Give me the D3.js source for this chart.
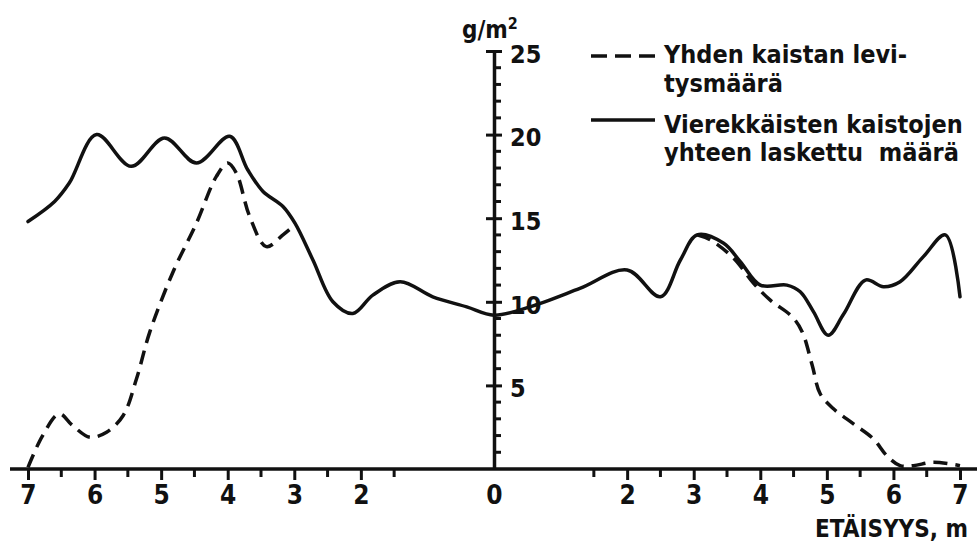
<!DOCTYPE html>
<html>
<head>
<meta charset="utf-8">
<script src="https://cdn.jsdelivr.net/npm/d3@7"></script>
<style>
  body { margin: 0; background: #fff; }
  text { font-family: "DejaVu Sans Condensed", "DejaVu Sans", sans-serif; font-weight: bold; fill: #111; }
</style>
</head>
<body>
<div class="container"></div>
<script>
// distances (m), negative = left side of the centre line
const sumX = [-7, -6.6, -6.38, -5.97, -5.45, -4.95, -4.47, -3.97, -3.7, -3.47, -3.17, -2.99, -2.72, -2.42, -2.12, -1.82, -1.41, -0.92, -0.41, 0,
  0.54, 1.29, 2.0, 2.5, 2.8, 3.05, 3.45, 3.7, 4.0, 4.4, 4.6, 4.8, 5.02, 5.25, 5.58, 5.85, 6.1, 6.45, 6.78, 7.0];
const sumY = [14.8, 16.0, 17.1, 20.0, 18.1, 19.8, 18.3, 19.9, 17.9, 16.6, 15.7, 14.7, 12.5, 10.0, 9.3, 10.4, 11.2, 10.3, 9.7, 9.2,
  9.7, 10.8, 11.9, 10.3, 12.5, 14.0, 13.5, 12.4, 11.0, 11.0, 10.6, 9.4, 8.0, 9.25, 11.3, 10.9, 11.2, 12.7, 14.0, 10.3];

// single strip, left part
const singleLeftX = [-7.0, -6.78, -6.53, -6.33, -6.07, -5.82, -5.57, -5.37, -5.17, -4.82, -4.47, -4.17, -4.0, -3.87, -3.67, -3.42, -3.17, -2.99];
const singleLeftY = [0.1, 2.0, 3.3, 2.6, 1.9, 2.2, 3.2, 5.4, 8.2, 11.8, 14.7, 17.5, 18.3, 17.7, 15.1, 13.3, 14.0, 14.6];

// single strip, right part
const singleRightX = [3.05, 3.25, 3.6, 3.9, 4.15, 4.48, 4.63, 4.78, 4.9, 5.1, 5.4, 5.7, 5.9, 6.1, 6.3, 6.6, 7.0];
const singleRightY = [14.0, 13.7, 12.6, 11.1, 10.1, 9.1, 8.2, 6.2, 4.5, 3.6, 2.7, 1.8, 0.8, 0.2, 0.2, 0.4, 0.2];

const xMajor = [-7, -6, -5, -4, -3, -2, 0, 2, 3, 4, 5, 6, 7];
const xMinor = [-6.5, -5.5, -4.5, -3.5, -2.5, -1.5, 1.5, 2.5, 3.5, 4.5, 5.5, 6.5];
const yMajor = [5, 10, 15, 20, 25];
const yMinor = d3.range(1, 25).filter(d => d % 5 !== 0);

const width = 977;
const height = 542;

const xScale = d3.scaleLinear().domain([-7, 7]).range([28, 960]);
const yScale = d3.scaleLinear().domain([0, 25]).range([469, 51]);

const svg = d3.select("div.container")
  .append("svg")
  .attr("width", width)
  .attr("height", height);

// x axis
const xAxis = d3.axisBottom(xScale).tickValues(xMajor).tickFormat(d => Math.abs(d))
  .tickSize(11).tickSizeOuter(0).tickPadding(6);
const gx = svg.append("g").attr("id", "x-axis").attr("transform", `translate(0,${yScale(0)})`).call(xAxis);
gx.select(".domain").remove();
gx.selectAll(".tick line").attr("stroke", "#111").attr("stroke-width", 3);
gx.selectAll(".tick text").attr("font-size", 26).attr("dy", "0.68em");
gx.selectAll(".tick").filter(d => d === 0).select("line").remove();

gx.selectAll(".minor").data(xMinor).enter().append("line").attr("class", "minor")
  .attr("x1", d => xScale(d)).attr("x2", d => xScale(d))
  .attr("y1", 0).attr("y2", 8)
  .attr("stroke", "#111").attr("stroke-width", 3);

svg.append("line")
  .attr("x1", 10).attr("x2", width)
  .attr("y1", yScale(0)).attr("y2", yScale(0))
  .attr("stroke", "#111").attr("stroke-width", 3.5);

// y axis on the centre line
const yAxis = d3.axisRight(yScale).tickValues(yMajor).tickSize(8).tickPadding(8).tickSizeOuter(0);
const gy = svg.append("g").attr("id", "y-axis").attr("transform", `translate(${xScale(0)},0)`).call(yAxis);
gy.select(".domain").attr("stroke", "#111").attr("stroke-width", 3.5);
gy.selectAll(".tick line").attr("x1", -8).attr("stroke", "#111").attr("stroke-width", 3);
gy.selectAll(".tick text").attr("font-size", 25).attr("dy", "0.45em");

gy.selectAll(".minor").data(yMinor).enter().append("line").attr("class", "minor")
  .attr("x1", 0).attr("x2", 7)
  .attr("y1", d => yScale(d)).attr("y2", d => yScale(d))
  .attr("stroke", "#111").attr("stroke-width", 3);

svg.append("text").attr("x", 462).attr("y", 38).attr("font-size", 24)
  .html('g/m<tspan dy="-9" font-size="16">2</tspan>');

svg.append("text").attr("x", 968).attr("y", 537).attr("font-size", 24)
  .attr("text-anchor", "end")
  .text("ETÄISYYS, m");

// curves
const line = d3.line()
  .x(d => xScale(d[0]))
  .y(d => yScale(d[1]))
  .curve(d3.curveCatmullRom.alpha(0.5));

svg.append("path")
  .datum(sumX.map((x, i) => [x, sumY[i]]))
  .attr("d", line)
  .attr("fill", "none").attr("stroke", "#111").attr("stroke-width", 3.5)
  .attr("stroke-linejoin", "round").attr("stroke-linecap", "round");

[[singleLeftX, singleLeftY], [singleRightX, singleRightY]].forEach(([xs, ys]) => {
  svg.append("path")
    .datum(xs.map((x, i) => [x, ys[i]]))
    .attr("d", line)
    .attr("fill", "none").attr("stroke", "#111").attr("stroke-width", 3.5)
    .attr("stroke-dasharray", "14,8");
});

// legend
const legend = svg.append("g").attr("id", "legend");
legend.append("line").attr("x1", 591).attr("x2", 655).attr("y1", 56).attr("y2", 56)
  .attr("stroke", "#111").attr("stroke-width", 3.5).attr("stroke-dasharray", "16,8");
legend.append("text").attr("x", 664).attr("y", 63).attr("font-size", 25).text("Yhden kaistan levi-");
legend.append("text").attr("x", 664).attr("y", 92).attr("font-size", 25).text("tysmäärä");
legend.append("line").attr("x1", 591).attr("x2", 655).attr("y1", 120).attr("y2", 120)
  .attr("stroke", "#111").attr("stroke-width", 3.5);
legend.append("text").attr("x", 664).attr("y", 133).attr("font-size", 25).text("Vierekkäisten kaistojen");
legend.append("text").attr("x", 664).attr("y", 161).attr("font-size", 25).text("yhteen laskettu  määrä")
  .attr("xml:space", "preserve");
</script>
</body>
</html>
